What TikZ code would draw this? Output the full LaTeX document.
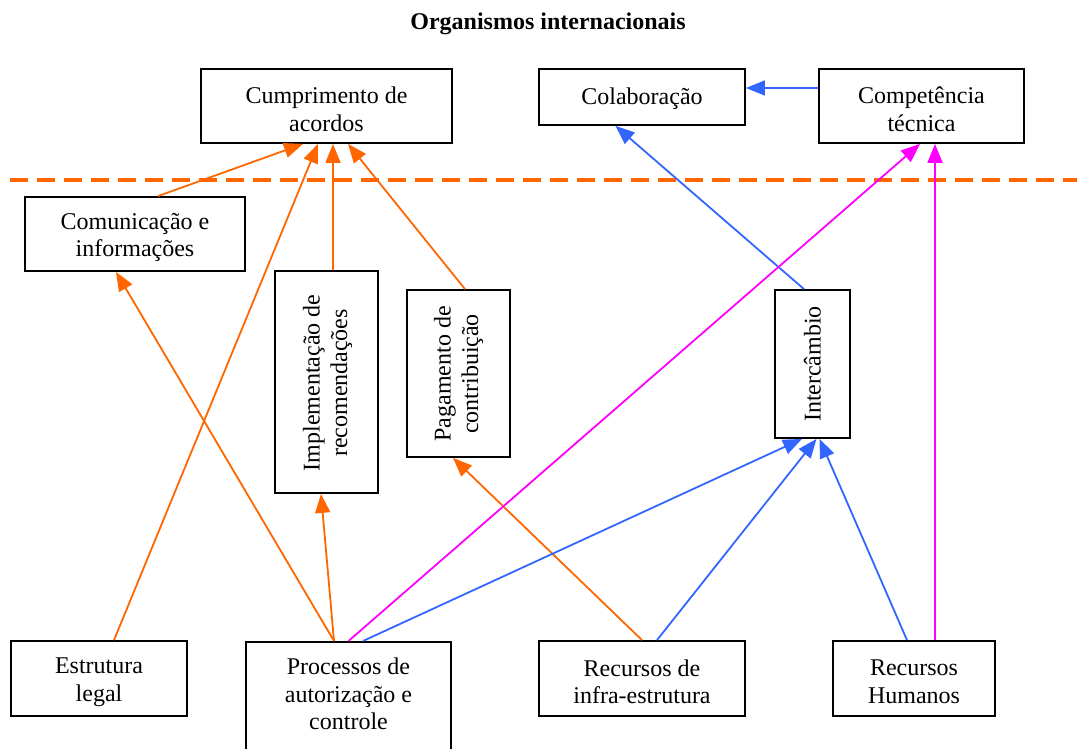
\documentclass[tikz,border=0pt]{standalone}
\usepackage{fontspec}
\setmainfont{Liberation Serif}
\usetikzlibrary{arrows.meta}
\definecolor{orgorange}{HTML}{FF6600}
\definecolor{orgblue}{HTML}{3366FF}
\definecolor{orgmagenta}{HTML}{FF00FF}
\tikzset{
  box/.style={draw=black, line width=1.8pt, fill=white, inner sep=0pt},
  boxtext/.style={inner sep=0pt, align=center, font=\fontsize{24}{27.5}\selectfont},
  link/.style={line width=1.8pt, -{Triangle[length=19pt, width=15pt]}},
  orangelink/.style={link, draw=orgorange},
  bluelink/.style={link, draw=orgblue},
  magentalink/.style={link, draw=orgmagenta},
  divider/.style={draw=orgorange, line width=4pt, dash pattern=on 18pt off 9pt}
}
\begin{document}
\begin{tikzpicture}[x=1pt, y=1pt]
\useasboundingbox (0,0) rectangle (1077,-749);
\clip (0,0) rectangle (1077,-749);

% heading
\node[boxtext, font=\fontsize{24}{27.5}\selectfont\bfseries] (title) at (548,-24) {Organismos internacionais};

% dashed divider
\coordinate (divL) at (10,-180);
\coordinate (divR) at (1077,-180);
\draw[divider] (divL) -- (divR);

% upper level
\node[box, minimum width=251, minimum height=74] (cump) at (326.5,-106) {};
\node[boxtext] (cumptext) at ([yshift=-3.5pt]cump.center) {Cumprimento de\\acordos};
\node[box, minimum width=206, minimum height=56] (colab) at (642,-97) {};
\node[boxtext] (colabtext) at ([yshift=-2pt]colab.center) {Colaboração};
\node[box, minimum width=205, minimum height=74] (comp) at (921.5,-106) {};
\node[boxtext] (comptext) at ([yshift=-3.5pt]comp.center) {Competência\\técnica};

% middle level
\node[box, minimum width=220, minimum height=74] (comun) at (135,-234) {};
\node[boxtext] (comuntext) at ([yshift=-3.5pt]comun.center) {Comunicação e\\informações};
\node[box, minimum width=103, minimum height=222] (impl) at (326.5,-382) {};
\node[boxtext, rotate=90] (impltext) at (327.5,-383) {Implementação de\\recomendações};
\node[box, minimum width=103, minimum height=167] (pag) at (458.5,-373.5) {};
\node[boxtext, rotate=90] (pagtext) at (458.5,-374) {Pagamento de\\contribuição};
\node[box, minimum width=75, minimum height=148] (inter) at (812.5,-364) {};
\node[boxtext, rotate=90] (intertext) at (812.5,-364) {Intercâmbio};

% lower level
\node[box, minimum width=176, minimum height=75] (estr) at (99,-678.5) {};
\node[boxtext] (estrtext) at ([yshift=-3.5pt]estr.center) {Estrutura\\legal};
\node[box, minimum width=205, minimum height=124, anchor=north] (proc) at (348.5,-641) {};
\node[boxtext] (proctext) at (348.5,-694) {Processos de\\autorização e\\controle};
\node[box, minimum width=206, minimum height=75] (infra) at (642,-678.5) {};
\node[boxtext] (infratext) at ([yshift=-3.5pt]infra.center) {Recursos de\\infra-estrutura};
\node[box, minimum width=162, minimum height=75] (hum) at (914,-678.5) {};
\node[boxtext] (humtext) at ([yshift=-3.5pt]hum.center) {Recursos\\Humanos};

% orange connectors
\draw[orangelink] ([xshift=23pt]comun.north) -- ([xshift=-23.5pt]cump.south);
\draw[orangelink] ([xshift=15pt]estr.north) -- ([xshift=-8.5pt]cump.south);
\draw[orangelink] ([xshift=6.5pt]impl.north) -- ([xshift=6.5pt]cump.south);
\draw[orangelink] ([xshift=6.5pt]pag.north) -- ([xshift=21.5pt]cump.south);
\draw[orangelink] ([xshift=-14.5pt]proc.north) -- ([xshift=-19pt]comun.south);
\draw[orangelink] ([xshift=-14.5pt]proc.north) -- ([xshift=-5.5pt]impl.south);
\draw[orangelink] (infra.north) -- ([xshift=-5.5pt]pag.south);

% blue connectors
\draw[bluelink] ([yshift=18pt]comp.west) -- ([yshift=9pt]colab.east);
\draw[bluelink] ([xshift=-8.5pt]inter.north) -- ([xshift=-26.5pt]colab.south);
\draw[bluelink] ([xshift=14.5pt]proc.north) -- ([xshift=-10.5pt]inter.south);
\draw[bluelink] ([xshift=15pt]infra.north) -- ([xshift=4pt]inter.south);
\draw[bluelink] ([xshift=-7pt]hum.north) -- ([xshift=7pt]inter.south);

% magenta connectors
\draw[magentalink] (proc.north) -- ([xshift=-1.5pt]comp.south);
\draw[magentalink] ([xshift=21pt]hum.north) -- ([xshift=13.5pt]comp.south);
\end{tikzpicture}
\end{document}
